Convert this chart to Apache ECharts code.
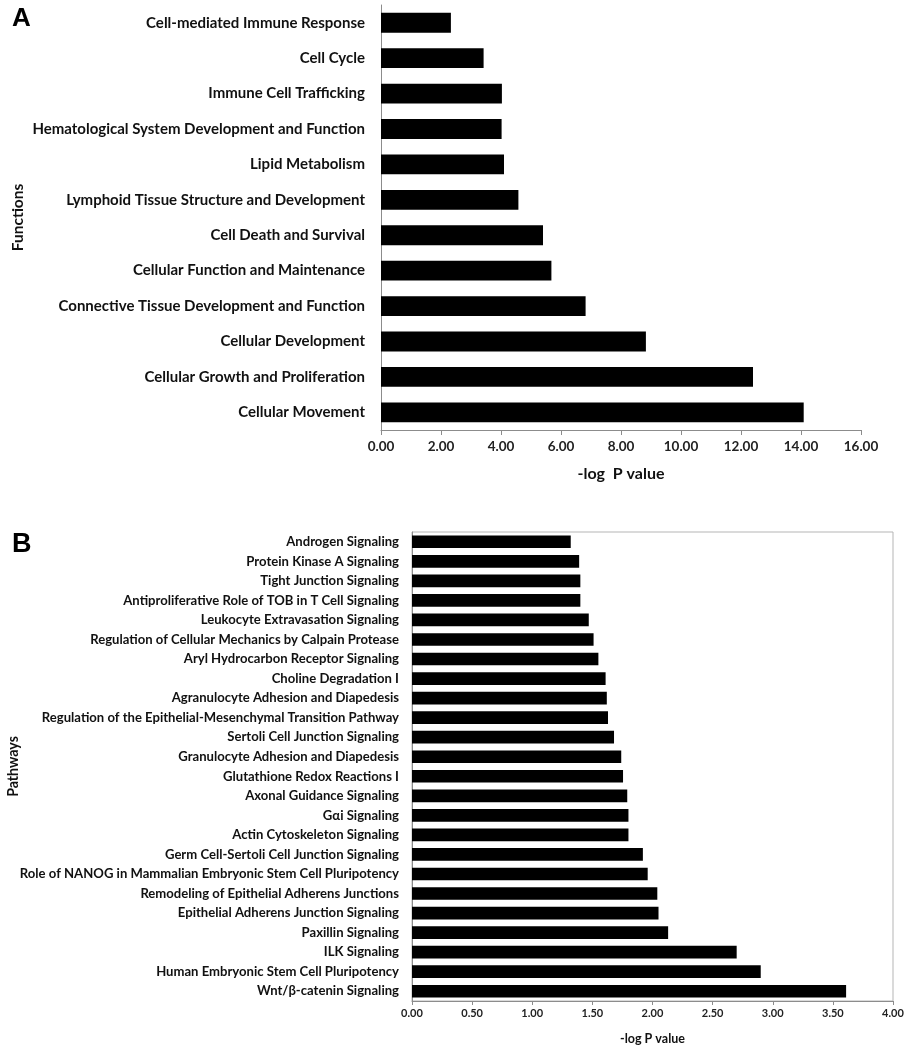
<!DOCTYPE html>
<html>
<head>
<meta charset="utf-8">
<script src="https://cdn.jsdelivr.net/npm/echarts@6/dist/echarts.min.js"></script>
<style>
html,body{margin:0;padding:0;background:#fff;}
#c{width:907px;height:1050px;}
</style>
</head>
<body>
<div id="c"></div>
<script>
const functionsCategories = [
  "Cell-mediated Immune Response",
  "Cell Cycle",
  "Immune Cell Trafficking",
  "Hematological System Development and Function",
  "Lipid Metabolism",
  "Lymphoid Tissue Structure and Development",
  "Cell Death and Survival",
  "Cellular Function and Maintenance",
  "Connective Tissue Development and Function",
  "Cellular Development",
  "Cellular Growth and Proliferation",
  "Cellular Movement"
];
const functionsValues = [2.33, 3.42, 4.03, 4.02, 4.10, 4.58, 5.40, 5.68, 6.82, 8.83, 12.40, 14.09];

const pathwaysCategories = [
  "Androgen Signaling",
  "Protein Kinase A Signaling",
  "Tight Junction Signaling",
  "Antiproliferative Role of TOB in T Cell Signaling",
  "Leukocyte Extravasation Signaling",
  "Regulation of Cellular Mechanics by Calpain Protease",
  "Aryl Hydrocarbon Receptor Signaling",
  "Choline Degradation I",
  "Agranulocyte Adhesion and Diapedesis",
  "Regulation of the Epithelial-Mesenchymal Transition Pathway",
  "Sertoli Cell Junction Signaling",
  "Granulocyte Adhesion and Diapedesis",
  "Glutathione Redox Reactions I",
  "Axonal Guidance Signaling",
  "Gαi Signaling",
  "Actin Cytoskeleton Signaling",
  "Germ Cell-Sertoli Cell Junction Signaling",
  "Role of NANOG in Mammalian Embryonic Stem Cell Pluripotency",
  "Remodeling of Epithelial Adherens Junctions",
  "Epithelial Adherens Junction Signaling",
  "Paxillin Signaling",
  "ILK Signaling",
  "Human Embryonic Stem Cell Pluripotency",
  "Wnt/β-catenin Signaling"
];
const pathwaysValues = [1.32, 1.39, 1.40, 1.40, 1.47, 1.51, 1.55, 1.61, 1.62, 1.63, 1.68, 1.74, 1.755, 1.79, 1.80, 1.80, 1.92, 1.96, 2.04, 2.05, 2.13, 2.70, 2.90, 3.61];

const axisAMax = 16, axisAInterval = 2;
const axisBMax = 4, axisBInterval = 0.5;

const FONT = 'Lato';
const axisGray = '#8c8c8c';

const chart = echarts.init(document.getElementById('c'), null, {renderer: 'canvas'});
chart.setOption({
  backgroundColor: '#fff',
  animation: false,
  textStyle: {fontFamily: FONT},
  title: [
    {text: 'A', left: 7, top: 1, textStyle: {fontFamily: 'Liberation Sans', fontWeight: 'bold', fontSize: 26, color: '#000'}},
    {text: 'B', left: 7, top: 526, textStyle: {fontFamily: 'Liberation Sans', fontWeight: 'bold', fontSize: 27, color: '#000'}}
  ],
  grid: [
    {left: 381, top: 5, width: 480, height: 425, containLabel: false, outerBoundsMode: 'none'},
    {left: 412, top: 532, width: 481, height: 469, containLabel: false, outerBoundsMode: 'none',
      show: true, borderColor: '#b5b5b5', borderWidth: 1, backgroundColor: 'transparent'}
  ],
  xAxis: [
    {
      gridIndex: 0, type: 'value', min: 0, max: axisAMax, interval: axisAInterval,
      name: '-log  P value', nameLocation: 'middle', nameGap: 36, nameMoveOverlap: false,
      nameTextStyle: {fontFamily: FONT, fontWeight: 'bold', fontSize: 16, color: '#111'},
      axisLine: {show: true, lineStyle: {color: axisGray, width: 1}},
      axisTick: {show: true, length: 5, lineStyle: {color: axisGray}},
      splitLine: {show: false},
      axisLabel: {fontFamily: FONT, fontWeight: 'bold', fontSize: 13.5, color: '#222', margin: 10,
        formatter: v => v.toFixed(2)}
    },
    {
      gridIndex: 1, type: 'value', min: 0, max: axisBMax, interval: axisBInterval,
      name: '-log P value', nameLocation: 'middle', nameGap: 31, nameMoveOverlap: false,
      nameTextStyle: {fontFamily: FONT, fontWeight: 'bold', fontSize: 12.5, color: '#111'},
      axisLine: {show: true, lineStyle: {color: axisGray, width: 1}},
      axisTick: {show: true, length: 4, lineStyle: {color: axisGray}},
      splitLine: {show: false},
      axisLabel: {fontFamily: FONT, fontWeight: 'bold', fontSize: 11, color: '#222', margin: 7,
        formatter: v => v.toFixed(2)}
    }
  ],
  yAxis: [
    {
      gridIndex: 0, type: 'category', data: functionsCategories, inverse: true,
      name: 'Functions', nameLocation: 'middle', nameGap: 355, nameRotate: 90, nameMoveOverlap: false,
      nameTextStyle: {fontFamily: FONT, fontWeight: 'bold', fontSize: 15.5, color: '#111'},
      axisLine: {show: true, lineStyle: {color: axisGray, width: 1}},
      axisTick: {show: false},
      axisLabel: {fontFamily: FONT, fontWeight: 'bold', fontSize: 15, color: '#111', margin: 16}
    },
    {
      gridIndex: 1, type: 'category', data: pathwaysCategories, inverse: true,
      name: 'Pathways', nameLocation: 'middle', nameGap: 392, nameRotate: 90, nameMoveOverlap: false,
      nameTextStyle: {fontFamily: FONT, fontWeight: 'bold', fontSize: 14.2, color: '#111'},
      axisLine: {show: true, lineStyle: {color: axisGray, width: 1}},
      axisTick: {show: false},
      axisLabel: {fontFamily: FONT, fontWeight: 'bold', fontSize: 13.1, color: '#111', margin: 13, interval: 0}
    }
  ],
  series: [
    {type: 'bar', xAxisIndex: 0, yAxisIndex: 0, data: functionsValues, barWidth: '56%',
      itemStyle: {color: '#000'}, silent: true},
    {type: 'bar', xAxisIndex: 1, yAxisIndex: 1, data: pathwaysValues, barWidth: '65%',
      itemStyle: {color: '#000'}, silent: true}
  ]
});
</script>
</body>
</html>
